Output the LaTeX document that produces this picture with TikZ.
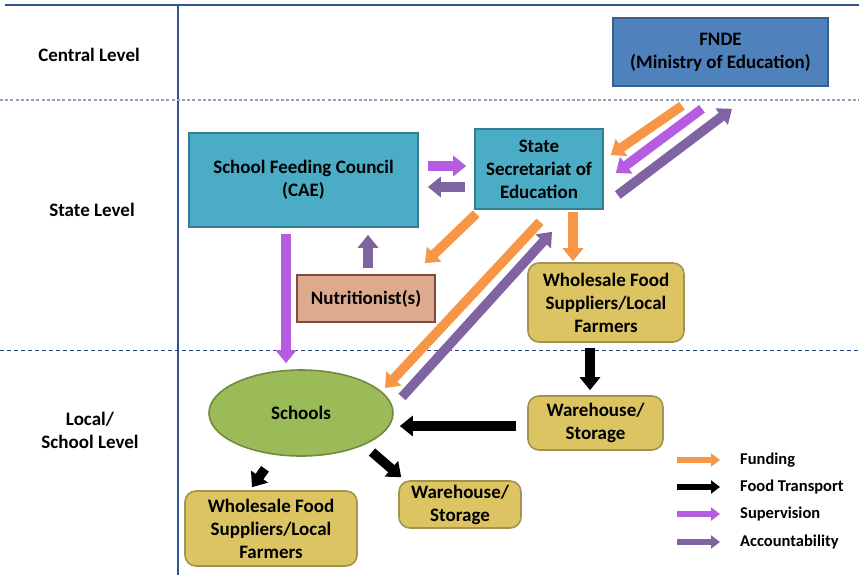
\documentclass[tikz,border=0pt]{standalone}
\usepackage{fontspec}
\setmainfont{Carlito}
\usetikzlibrary{arrows.meta,shapes.geometric}
\definecolor{navy}{HTML}{2F5496}
\definecolor{lightdash}{HTML}{8EA2C2}
\definecolor{fndefill}{HTML}{4F81BD}
\definecolor{fndeedge}{HTML}{385D8A}
\definecolor{tealfill}{HTML}{4BACC6}
\definecolor{tealedge}{HTML}{357D91}
\definecolor{nutfill}{HTML}{DDAA8E}
\definecolor{nutedge}{HTML}{7F4A42}
\definecolor{goldfill}{HTML}{DCC462}
\definecolor{goldedge}{HTML}{A39350}
\definecolor{greenfill}{HTML}{9BBB59}
\definecolor{greenedge}{HTML}{71893F}
\definecolor{fundc}{HTML}{F79646}
\definecolor{supc}{HTML}{B65CE0}
\definecolor{accc}{HTML}{8064A2}
\tikzset{
  txt/.style={font=\bfseries\fontsize{19}{23}\selectfont, align=center},
  lvl/.style={txt},
  box/.style={txt, draw, line width=1.6pt, inner sep=0pt},
  bluebox/.style={box, fill=fndefill, draw=fndeedge},
  tealbox/.style={box, fill=tealfill, draw=tealedge},
  nutbox/.style={box, fill=nutfill, draw=nutedge},
  goldbox/.style={box, fill=goldfill, draw=goldedge, rounded corners=11pt},
  schbox/.style={box, ellipse, fill=greenfill, draw=greenedge},
  blk/.style={line width=9.5pt, -{Triangle[width=20pt,length=13pt]}},
  fund/.style={blk, draw=fundc, fill=fundc},
  sup/.style={blk, draw=supc, fill=supc},
  acc/.style={blk, draw=accc, fill=accc},
  food/.style={blk, draw=black, fill=black},
  legarrow/.style={line width=6.5pt, -{Triangle[width=13pt,length=9pt]}},
  legtxt/.style={font=\bfseries\fontsize{16.5}{19}\selectfont, anchor=west, inner sep=0pt},
}
\begin{document}
\begin{tikzpicture}[x=1pt,y=-1pt]
\useasboundingbox (0,0) rectangle (859,575);
% frame lines
\draw[navy, line width=1.3pt] (5,5) -- (859,5);
\draw[navy, line width=1.3pt] (178,5) -- (178,575);
\draw[lightdash, line width=2pt, dash pattern=on 3pt off 2.2pt] (0,100) -- (859,100);
\draw[navy!85!black, line width=0.9pt, dash pattern=on 4pt off 3pt] (0,350) -- (859,350);
% level labels
\node[lvl] (Lc) at (89,55) {Central Level};
\node[lvl] (Ls) at (92,210) {State Level};
\node[lvl] (Ll) at (90,430) {Local/\\School Level};
% nodes
\node[bluebox, minimum width=215pt, minimum height=68pt] (FNDE) at (720.5,52) {FNDE\\(Ministry of Education)};
\node[tealbox, minimum width=229pt, minimum height=94pt] (CAE) at (303.5,180) {School Feeding Council\\(CAE)};
\node[tealbox, minimum width=128pt, minimum height=80pt] (SSE) at (539,169) {State\\Secretariat of\\Education};
\node[nutbox, minimum width=138pt, minimum height=47pt] (NUT) at (366,298.5) {Nutritionist(s)};
\node[goldbox, minimum width=156pt, minimum height=79pt] (WS1) at (606,302.5) {Wholesale Food\\Suppliers/Local\\Farmers};
\node[goldbox, minimum width=135pt, minimum height=54pt] (WH1) at (595.5,423) {Warehouse/\\Storage};
\node[schbox, minimum width=184pt, minimum height=86pt] (SCH) at (301,413) {Schools};
\node[goldbox, minimum width=172pt, minimum height=75pt] (WS2) at (271,528.5) {Wholesale Food\\Suppliers/Local\\Farmers};
\node[goldbox, minimum width=122pt, minimum height=47pt] (WH2) at (460,504.5) {Warehouse/\\Storage};
% connectors
\draw[sup] ([shift={(9,-14)}]CAE.east) -- ([shift={(-8,-3)}]SSE.west);
\draw[acc] ([shift={(-9,18)}]SSE.west) -- ([shift={(9,7)}]CAE.east);
\draw[fund] ([shift={(-38.5,19)}]FNDE.south) -- ([shift={(7,-14)}]SSE.east);
\draw[sup] ([shift={(-18.5,22)}]FNDE.south) -- ([shift={(12,4)}]SSE.east);
\draw[acc] ([shift={(14,26)}]SSE.east) -- ([shift={(11.5,22)}]FNDE.south);
\draw[fund] ([shift={(2,4)}]SSE.south west) -- ([shift={(-11,-11)}]NUT.north east);
\draw[fund] ([shift={(1,12)}]SSE.south) -- ([shift={(84,-25)}]SCH.center);
\draw[acc] ([shift={(101,-16)}]SCH.center) -- ([shift={(13,22)}]SSE.south);
\draw[fund] ([shift={(34,2)}]SSE.south) -- ([shift={(-33,-1)}]WS1.north);
\draw[sup] ([shift={(-17.5,6)}]CAE.south) -- ([shift={(-15,-6)}]SCH.north);
\draw[acc] ([shift={(2,-6)}]NUT.north) -- ([shift={(64.5,7)}]CAE.south);
\draw[food] ([shift={(-16,5)}]WS1.south) -- ([shift={(-5.5,-5)}]WH1.north);
\draw[food] ([shift={(-11,3)}]WH1.west) -- ([shift={(6,13)}]SCH.east);
\draw[food] ([shift={(-36,12)}]SCH.south) -- ([shift={(-19,-3)}]WS2.north);
\draw[food] ([shift={(71,39)}]SCH.center) -- ([shift={(3,-3)}]WH2.north west);
% legend
\node[legtxt] (T1) at (740,460) {Funding};
\node[legtxt] (T2) at (740,487) {Food Transport};
\node[legtxt] (T3) at (740,514) {Supervision};
\node[legtxt] (T4) at (740,542) {Accountability};
\coordinate (A1) at (677,460);
\coordinate (A2) at (677,487);
\coordinate (A3) at (677,514);
\coordinate (A4) at (677,542);
\draw[legarrow, draw=fundc, fill=fundc] (A1) -- ([xshift=-20pt]T1.west);
\draw[legarrow, draw=black, fill=black] (A2) -- ([xshift=-20pt]T2.west);
\draw[legarrow, draw=supc, fill=supc] (A3) -- ([xshift=-20pt]T3.west);
\draw[legarrow, draw=accc, fill=accc] (A4) -- ([xshift=-20pt]T4.west);
\end{tikzpicture}
\end{document}
